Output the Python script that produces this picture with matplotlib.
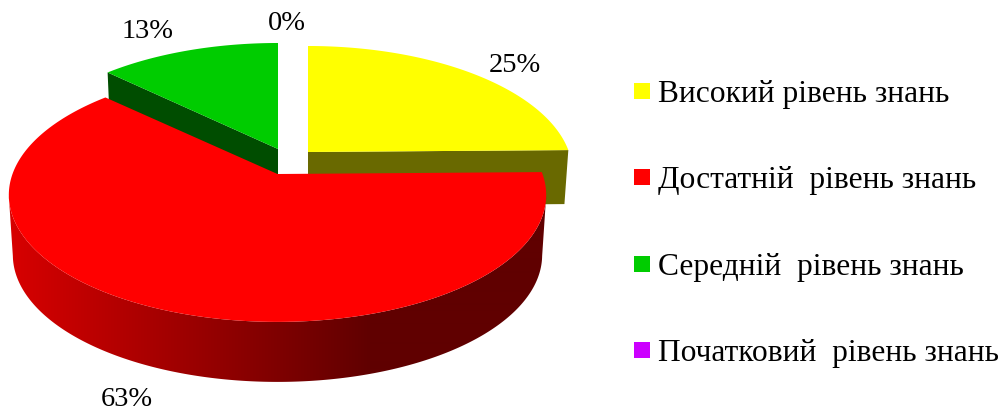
#!usr/bin/env python3
import numpy as np
import matplotlib
matplotlib.use('Agg')
import matplotlib.pyplot as plt
from matplotlib.patches import Polygon, Rectangle

plt.rcParams['font.family'] = ['Liberation Serif', 'DejaVu Serif']

#data
categories = ['Високий рівень знань', 'Достатній  рівень знань', 'Середній  рівень знань', 'Початковий  рівень знань']
values = [25, 63, 13, 0]
value_labels = ['25%', '63%', '13%', '0%']
colors = ['#ffff00', '#ff0000', '#00cc00', '#cc00ff']
side_colors = ['#696900', '#600000', '#004d00', '#600060']

#look of the fake 3d pie, in pixels
rx = 265
ry = 123.5
persp = 0.165
taper = 0.985
#slice centre x, centre y, x scale, depth
slice_pos = [(308, 152, 0.985, 54), (277.5, 174, 1.0, 60), (278, 149, 0.99, 60), (293, 150, 1.0, 60)]
label_pos = [(515, 65), (127, 400), (148, 31), (287, 23)]
legend_y = [91, 177, 264, 350]
legend_base = [102, 188, 275, 361]


def rim(theta, pos, scale=1.0, drop=0):
	cx, cy, sx = pos[:3]
	t = np.radians(theta)
	f = 1 + persp*np.sin(t)
	x = cx + sx*scale*rx*np.cos(t)/f
	y = cy - ry*np.sin(t)/f + drop
	return x, y


def wedge(a1, a2, pos):
	theta = np.linspace(a1, a2, 200)
	x, y = rim(theta, pos)
	return np.column_stack([np.r_[pos[0], x], np.r_[pos[1], y]])


fig = plt.figure(figsize=(10.06, 4.12), dpi=100)
ax = fig.add_axes([0, 0, 1, 1])

#angles go clockwise from the top
shares = np.array(values)/sum(values)*360
ends = 90 - np.cumsum(shares)
starts = np.r_[90, ends[:-1]]

#cut faces of the yellow and green slices, behind the red one
for i, edge in ((0, ends[0]), (2, starts[2])):
	depth = slice_pos[i][3]
	x, y = rim(edge, slice_pos[i])
	x2, y2 = rim(edge, slice_pos[i], taper, depth)
	cx, cy = slice_pos[i][:2]
	face = [(cx, cy), (x, y), (x2, y2), (cx, cy + depth)]
	ax.add_patch(Polygon(face, closed=True, fc=side_colors[i], ec='none', zorder=1))
	ax.add_patch(Polygon(wedge(starts[i], ends[i], slice_pos[i]), closed=True, fc=colors[i], ec='none', zorder=2))

#red outer wall, a left to right gradient clipped to the wall outline
#it runs between the two widest points of the rim
pos = slice_pos[1]
theta = np.linspace(-10, -170, 400)
x, y = rim(theta, pos)
x2, y2 = rim(theta, pos, taper, pos[3])
outline = Polygon(np.column_stack([np.r_[x, x2[::-1]], np.r_[y, y2[::-1]]]), closed=True, fc='none', ec='none', transform=ax.transData)
ax.add_patch(outline)
grad_x = np.arange(0, 1006)
red = np.interp(grad_x, [8, 370, 547], [216, 96, 96])/255
grad = np.zeros((1, len(grad_x), 3))
grad[0, :, 0] = red
img = ax.imshow(grad, extent=(0, 1006, 412, 0), aspect='auto', zorder=3, interpolation='bilinear')
img.set_clip_path(outline)
ax.add_patch(Polygon(wedge(starts[1], ends[1], pos), closed=True, fc=colors[1], ec='none', zorder=4))

for lab, (lx, ly) in zip(value_labels, label_pos):
	ax.text(lx, ly, lab, fontsize=20.5, ha='center', va='center', color='black', zorder=5)

#legend
for name, col, sy, base in zip(categories, colors, legend_y, legend_base):
	ax.add_patch(Rectangle((634, sy - 8), 16, 16, fc=col, ec='none', zorder=5))
	ax.text(658, base, name, fontsize=22.7, ha='left', va='baseline', color='black', zorder=5)

ax.set_xlim(0, 1006)
ax.set_ylim(412, 0)
ax.axis('off')

fig.savefig('out.png', dpi=100, facecolor='white')
